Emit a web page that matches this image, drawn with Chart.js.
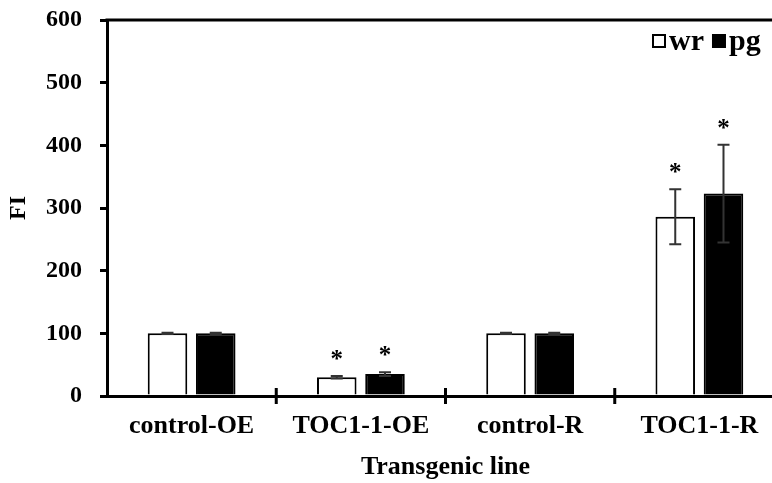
<!DOCTYPE html>
<html>
<head>
<meta charset="utf-8">
<script src="https://cdn.jsdelivr.net/npm/chart.js@4/dist/chart.umd.min.js"></script>
<style>
  html, body { margin: 0; padding: 0; overflow: hidden; background: #fff; }
  #wrap { width: 784px; height: 483px; position: relative; }
</style>
</head>
<body>
<div id="wrap"><canvas id="c"></canvas></div>
<script>
// Fluorescence intensity per transgenic line (mean ± error)
const categories = ['control-OE', 'TOC1-1-OE', 'control-R', 'TOC1-1-R'];
const wrValues = [100, 30, 100, 286];
const wrErrors = [1, 2, 1, 44];
const pgValues = [100, 35, 100, 323];
const pgErrors = [1, 3, 1, 78];
const wrSignificant = [false, true, false, true];
const pgSignificant = [false, true, false, true];
const yTicks = [0, 100, 200, 300, 400, 500, 600];

const FONT = '"Liberation Serif", "Times New Roman", serif';
const errors = [wrErrors, pgErrors];
const significant = [wrSignificant, pgSignificant];

// Error bars, significance stars, top frame line, category ticks and legend
const decorations = {
  id: 'decorations',
  afterDatasetsDraw(chart) {
    const ctx = chart.ctx;
    const y = chart.scales.y;
    chart.data.datasets.forEach((ds, di) => {
      const meta = chart.getDatasetMeta(di);
      meta.data.forEach((bar, i) => {
        const v = ds.data[i], e = errors[di][i];
        const yTop = y.getPixelForValue(v + e);
        const yBot = y.getPixelForValue(v - e);
        ctx.save();
        ctx.strokeStyle = '#333';
        ctx.lineWidth = 2;
        ctx.beginPath();
        ctx.moveTo(bar.x, yTop); ctx.lineTo(bar.x, yBot);
        ctx.moveTo(bar.x - 6, yTop); ctx.lineTo(bar.x + 6, yTop);
        ctx.moveTo(bar.x - 6, yBot); ctx.lineTo(bar.x + 6, yBot);
        ctx.stroke();
        if (significant[di][i]) {
          ctx.fillStyle = '#000';
          ctx.font = 'bold 25px ' + FONT;
          ctx.textAlign = 'center';
          ctx.textBaseline = 'alphabetic';
          ctx.fillText('*', bar.x, yTop - 9);
        }
        ctx.restore();
      });
    });
  },
  afterDraw(chart) {
    const ctx = chart.ctx;
    const area = chart.chartArea;
    const x = chart.scales.x;
    ctx.save();
    ctx.strokeStyle = '#000';
    ctx.lineWidth = 3;
    // top frame line
    ctx.beginPath();
    ctx.moveTo(area.left - 1.5, area.top);
    ctx.lineTo(area.right, area.top);
    ctx.stroke();
    // category boundary ticks crossing the x axis
    const n = chart.data.labels.length;
    ctx.beginPath();
    for (let i = 1; i < n; i++) {
      const px = (x.getPixelForValue(i - 1) + x.getPixelForValue(i)) / 2;
      ctx.moveTo(px, area.bottom - 8);
      ctx.lineTo(px, area.bottom + 8);
    }
    ctx.stroke();
    // legend
    ctx.font = 'bold 30px ' + FONT;
    ctx.textBaseline = 'alphabetic';
    ctx.textAlign = 'left';
    let lx = 653;
    const ly = 50;
    chart.data.datasets.forEach((ds) => {
      ctx.fillStyle = ds.backgroundColor;
      ctx.lineWidth = 2;
      ctx.fillRect(lx, ly - 15, 12, 12);
      ctx.strokeRect(lx, ly - 15, 12, 12);
      ctx.fillStyle = '#000';
      ctx.fillText(ds.label, lx + 16, ly);
      lx += 16 + ctx.measureText(ds.label).width + 9;
    });
    ctx.restore();
  }
};

new Chart(document.getElementById('c'), {
  type: 'bar',
  data: {
    labels: categories,
    datasets: [
      { label: 'wr', data: wrValues, backgroundColor: '#ffffff', borderColor: '#000', borderWidth: 2 },
      { label: 'pg', data: pgValues, backgroundColor: '#000000', borderColor: '#000', borderWidth: 2 }
    ]
  },
  options: {
    responsive: true,
    maintainAspectRatio: false,
    animation: false,
    devicePixelRatio: 1,
    layout: { padding: { top: 20, right: 0, bottom: 0, left: 0 } },
    datasets: { bar: { categoryPercentage: 0.57, barPercentage: 0.82 } },
    plugins: { legend: { display: false }, tooltip: { enabled: false } },
    scales: {
      x: {
        afterFit(scale) { scale.height = 87; scale.paddingLeft = 0; scale.paddingRight = 0; },
        grid: { display: false, drawTicks: false },
        border: { display: true, color: '#000', width: 3 },
        ticks: { color: '#000', font: { family: FONT, size: 26, weight: 'bold' }, padding: 15 },
        title: { display: true, text: 'Transgenic line', color: '#000', font: { family: FONT, size: 26, weight: 'bold' }, padding: { top: 0, bottom: 0 } }
      },
      y: {
        min: 0, max: 600,
        afterBuildTicks(scale) { scale.ticks = yTicks.map(v => ({ value: v })); },
        afterFit(scale) { scale.width = 107; scale.paddingTop = 0; scale.paddingBottom = 0; },
        grid: { display: true, drawOnChartArea: false, drawTicks: true, tickLength: 7, color: '#000', lineWidth: 3 },
        border: { display: true, color: '#000', width: 3 },
        ticks: { color: '#000', font: { family: FONT, size: 24, weight: 'bold' }, padding: 18 },
        title: { display: true, text: 'FI', color: '#000', font: { family: FONT, size: 24, weight: 'bold' }, padding: { top: 4, bottom: 0 } }
      }
    }
  },
  plugins: [decorations]
});
</script>
</body>
</html>
